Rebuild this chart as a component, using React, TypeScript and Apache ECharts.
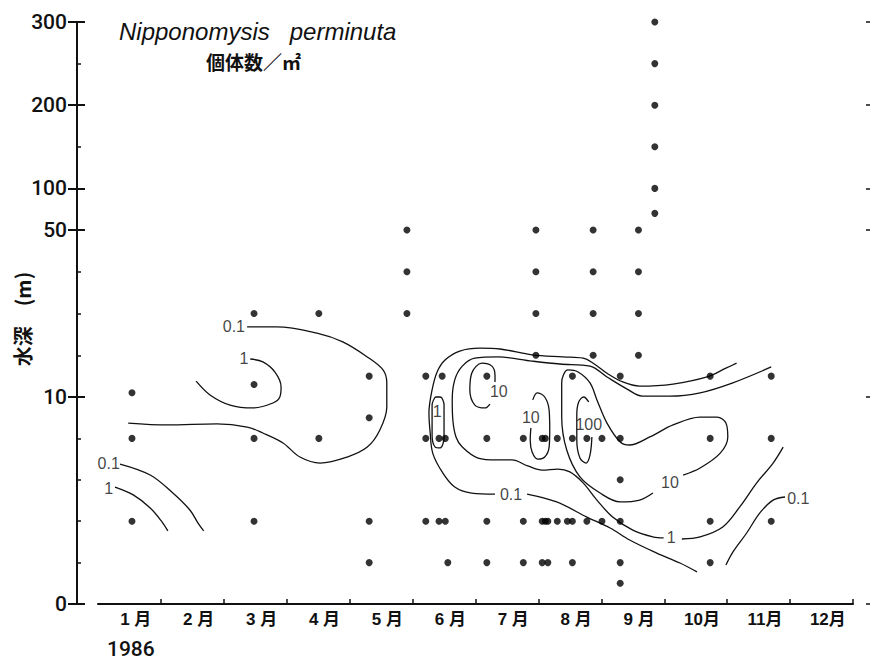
import React, { useEffect, useRef } from 'react';
import * as echarts from 'echarts';

// Month labels on the x axis (1 = start of January 1986)
const MONTH_LABELS = ['1 月', '2 月', '3 月', '4 月', '5 月', '6 月', '7 月', '8 月', '9 月', '10月', '11月', '12月'];

// Depth axis (m): labelled ticks and small unlabelled ticks
const DEPTH_TICKS = [0, 10, 50, 100, 200, 300];
const DEPTH_MINOR_TICKS = [2, 4, 6, 8, 20, 30, 40, 150, 250];

// Sampling stations: time (month) and the depths (m) sampled there
const SAMPLE_MONTHS = [1.54, 3.48, 4.51, 5.31, 5.91, 6.21, 6.42, 6.47, 6.52, 6.56, 7.18, 7.76, 7.96, 8.06, 8.11, 8.15, 8.3, 8.46, 8.54, 8.77, 8.87, 9.01, 9.3, 9.59, 9.85, 10.73, 11.7];
const SAMPLE_DEPTHS = [
  [11, 8, 4],
  [30, 13, 8, 4],
  [30, 8],
  [15, 9, 4, 2],
  [50, 40, 30],
  [15, 8, 4],
  [8, 4],
  [15],
  [8, 4],
  [2],
  [15, 8, 4, 2],
  [8, 4, 2],
  [50, 40, 30, 20],
  [8, 4, 2],
  [8, 4],
  [4, 2],
  [8, 4],
  [4],
  [15, 8, 4, 2],
  [8, 4],
  [50, 40, 30, 20],
  [8, 4],
  [15, 8, 6, 4, 2, 1],
  [50, 40, 30, 20],
  [300, 250, 200, 150, 100, 70],
  [15, 8, 4, 2],
  [15, 8, 4],
];

// Density isolines (individuals / m²), each as [month, depth m]
const JAN_ISO_01 = [[1.35, 6.76], [1.83, 6.23], [2.19, 5.36], [2.46, 4.54], [2.59, 3.91], [2.68, 3.53]];
const JAN_ISO_1 = [[1.27, 5.65], [1.56, 5.27], [1.83, 4.64], [2.02, 3.96], [2.11, 3.53]];
const SPRING_ISO_01 = [[3.37, 26.8], [3.84, 26.8], [4.48, 25.3], [4.89, 23.2], [5.28, 19.6], [5.53, 16.5], [5.59, 13.4], [5.59, 9.52], [5.48, 8.41], [5.28, 7.58], [4.96, 7.1], [4.53, 6.81], [4.21, 7.1], [3.94, 7.78], [3.62, 8.26], [3.37, 8.55], [2.89, 8.7], [2.1, 8.65], [1.48, 8.74]];
const SPRING_ISO_1 = [[3.42, 19.1], [3.62, 18.4], [3.81, 16.0], [3.91, 12.4], [3.89, 10.0], [3.78, 9.71], [3.46, 9.47], [3.1, 9.61], [2.78, 10.5], [2.56, 13.8]];
const SUMMER_ISO_01_A = [[11.15, 18.1], [10.98, 16.9], [10.68, 14.8], [10.14, 13.1], [9.61, 12.6], [9.34, 13.6], [9.09, 15.7], [8.87, 18.1], [8.71, 19.3], [8.39, 19.6], [7.9, 20.1], [7.39, 21.5], [7.07, 21.7], [6.75, 21.0], [6.52, 18.9], [6.39, 16.0], [6.31, 11.7], [6.26, 9.23], [6.28, 8.26], [6.32, 7.29], [6.47, 6.38], [6.67, 5.65], [6.94, 5.36], [7.31, 5.31]];
const SUMMER_ISO_01_B = [[7.82, 5.31], [8.29, 4.93], [8.77, 4.2], [9.14, 3.67], [9.45, 3.09], [9.88, 2.46], [10.25, 1.98], [10.52, 1.55]];
const SUMMER_ISO_1_A = [[11.7, 17.2], [11.09, 13.4], [10.57, 11.0], [10.09, 10.2], [9.65, 10.2], [9.41, 11.9], [9.09, 14.8], [8.82, 17.4], [8.34, 17.9], [7.9, 18.6], [7.36, 19.6], [6.99, 19.3], [6.79, 17.4], [6.67, 14.1], [6.63, 9.86], [6.64, 8.89], [6.69, 8.07], [6.79, 7.58], [7.04, 7.05], [7.34, 6.96], [7.58, 6.96], [7.83, 6.67], [8.06, 6.47], [8.31, 6.52], [8.5, 6.38], [8.71, 5.85], [8.93, 5.02], [9.18, 4.2], [9.5, 3.57], [9.82, 3.24], [9.99, 3.19]];
const SUMMER_ISO_1_B = [[10.28, 3.14], [10.57, 3.24], [10.93, 3.72], [11.2, 4.69], [11.47, 5.85], [11.73, 6.81], [11.89, 7.58]];
const AUG_ISO_10 = [[10.3, 6.23], [10.57, 6.57], [10.89, 7.29], [11.01, 8.07], [10.98, 8.74], [10.84, 9.03], [10.57, 9.03], [10.14, 8.65], [9.77, 8.07], [9.45, 7.68], [9.3, 7.83], [9.09, 8.74], [8.93, 9.86], [8.82, 13.4], [8.63, 16.0], [8.47, 16.5], [8.37, 13.4], [8.37, 9.03], [8.45, 7.44], [8.66, 6.14], [8.98, 5.36], [9.3, 4.93], [9.61, 5.02], [9.82, 5.36]];
const JUL_LOOP_ISO_10 = [[7.23, 9.66], [7.15, 9.47], [6.99, 9.61], [6.91, 11.7], [6.94, 15.7], [7.1, 18.1], [7.26, 17.4], [7.31, 15.2], [7.31, 13.6]];
const JUL_CORE_ISO_10 = [[7.88, 8.5], [7.87, 7.92], [7.9, 7.34], [7.99, 7.0], [8.1, 7.1], [8.17, 7.58], [8.18, 8.41], [8.17, 9.37], [8.1, 10.0], [7.98, 11.0], [7.91, 9.86]];
const AUG_ISO_100 = [[8.85, 8.07], [8.82, 7.2], [8.76, 6.81], [8.66, 7.05], [8.61, 7.92], [8.61, 9.13], [8.64, 9.76], [8.72, 10.0], [8.8, 9.76]];
const JUN_ISO_1 = [[6.36, 10.0], [6.44, 10.0], [6.5, 9.61], [6.5, 8.07], [6.44, 7.54], [6.36, 7.58], [6.31, 8.16], [6.31, 9.61], [6.36, 10.0]];
const NOV_ISO_01 = [[11.92, 5.17], [11.73, 5.02], [11.52, 4.4], [11.31, 3.43], [11.09, 2.51], [10.98, 1.88]];

const ISOLINES = [JAN_ISO_01, JAN_ISO_1, SPRING_ISO_01, SPRING_ISO_1, SUMMER_ISO_01_A, SUMMER_ISO_01_B, SUMMER_ISO_1_A, SUMMER_ISO_1_B, AUG_ISO_10, JUL_LOOP_ISO_10, JUL_CORE_ISO_10, AUG_ISO_100, JUN_ISO_1, NOV_ISO_01];

// Isoline level labels: [text, month, depth m]
const ISO_LABELS: [string, number, number][] = [
  ['0.1', 1.17, 6.8],
  ['1', 1.17, 5.56],
  ['0.1', 3.16, 26.8],
  ['1', 3.32, 19.3],
  ['1', 6.39, 9.32],
  ['10', 7.37, 11.2],
  ['10', 7.88, 9.03],
  ['100', 8.8, 8.65],
  ['0.1', 7.565, 5.31],
  ['10', 10.09, 5.85],
  ['1', 10.11, 3.19],
  ['0.1', 12.13, 5.12],
];

// Broken depth scale: 0–10 m, 10–50 m and 50–300 m each get their own stretch
function depthScale(d: number): number {
  if (d <= 10) return d * 20.7;
  if (d <= 50) return 207 + (d - 10) * 4.175;
  return 374 + (d - 50) * 0.832;
}
const DEPTH_TOP = depthScale(300);

const INK = '#111111';
const NUM_FONT = "Roboto, 'DejaVu Sans', sans-serif";
const CJK_FONT = "'Liberation Sans', 'Noto Sans CJK JP', sans-serif";

export default function App() {
  const ref = useRef<HTMLDivElement>(null);

  useEffect(() => {
    if (!ref.current) return;
    const chart = echarts.init(ref.current, undefined, { renderer: 'svg' });

    const dots: number[][] = [];
    SAMPLE_MONTHS.forEach((m, i) => {
      SAMPLE_DEPTHS[i].forEach((d) => dots.push([m, depthScale(d)]));
    });

    const lineSeries = ISOLINES.map((pts) => ({
      type: 'line',
      xAxisIndex: 0,
      yAxisIndex: 0,
      data: pts.map(([m, d]) => [m, depthScale(d)]),
      smooth: 0.35,
      showSymbol: false,
      symbol: 'none',
      silent: true,
      lineStyle: { color: INK, width: 1.3 },
      z: 2,
    }));

    const majorPos = DEPTH_TICKS.map(depthScale);
    const minorPos = DEPTH_MINOR_TICKS.map(depthScale);
    const baseY = {
      type: 'value',
      min: 0,
      max: DEPTH_TOP,
      splitLine: { show: false },
    };

    chart.setOption({
      animation: false,
      backgroundColor: '#ffffff',
      title: [
        {
          text: 'Nipponomysis   perminuta',
          left: 114,
          top: 14,
          textStyle: { fontFamily: "'Liberation Sans', sans-serif", fontStyle: 'italic', fontWeight: 'normal', fontSize: 24, color: INK },
        },
        {
          text: '個体数／㎡',
          left: 201,
          top: 47,
          textStyle: { fontFamily: "'Noto Sans CJK JP', sans-serif", fontWeight: 'bold', fontSize: 19, color: INK },
        },
      ],
      grid: { left: 98, right: 17, top: 22, bottom: 56, containLabel: false, outerBoundsMode: 'none' },
      xAxis: {
        type: 'value',
        min: 1,
        max: 13,
        position: 'bottom',
        axisLine: { show: true, onZero: false, lineStyle: { color: INK, width: 2 } },
        axisTick: {
          show: true,
          inside: true,
          length: 5,
          customValues: MONTH_LABELS.map((_, i) => i + 2),
          lineStyle: { color: INK, width: 1.5 },
        },
        axisLabel: {
          customValues: MONTH_LABELS.map((_, i) => i + 1.6),
          formatter: (v: number) => MONTH_LABELS[Math.floor(v) - 1] ?? '',
          margin: 7,
          fontFamily: CJK_FONT,
          fontWeight: 'bold',
          fontSize: 17,
          color: INK,
        },
        splitLine: { show: false },
      },
      yAxis: [
        {
          ...baseY,
          position: 'left',
          offset: 21,
          name: '水深　(m)',
          nameLocation: 'middle',
          nameGap: 45,
          nameMoveOverlap: false,
          nameRotate: 90,
          nameTextStyle: { fontFamily: "'Noto Sans CJK JP', sans-serif", fontWeight: 'bold', fontSize: 20, color: INK, padding: [0, 12, 0, 0] },
          axisLine: { show: true, onZero: false, lineStyle: { color: INK, width: 2 } },
          axisTick: { show: true, customValues: majorPos, length: 9, lineStyle: { color: INK, width: 2 } },
          axisLabel: {
            customValues: majorPos,
            formatter: (v: number) => {
              const d = DEPTH_TICKS.find((t) => Math.abs(depthScale(t) - v) < 0.01);
              return d === undefined ? '' : String(d);
            },
            margin: 10,
            fontFamily: NUM_FONT,
            fontWeight: 500,
            fontSize: 21,
            color: INK,
          },
        },
        {
          ...baseY,
          position: 'left',
          offset: 21,
          axisLine: { show: false },
          axisTick: { show: true, inside: true, customValues: majorPos, length: 8, lineStyle: { color: INK, width: 2 } },
          axisLabel: { show: false },
        },
        {
          ...baseY,
          position: 'left',
          offset: 21,
          axisLine: { show: false },
          axisTick: { show: true, inside: true, customValues: minorPos, length: 4, lineStyle: { color: INK, width: 1.5 } },
          axisLabel: { show: false },
        },
        {
          ...baseY,
          position: 'right',
          offset: 17,
          axisLine: { show: false },
          axisTick: { show: true, inside: true, customValues: majorPos, length: 4, lineStyle: { color: INK, width: 1.5 } },
          axisLabel: { show: false },
        },
      ],
      graphic: [
        {
          type: 'text',
          left: 107,
          top: 638,
          style: { text: '1986', fontFamily: NUM_FONT, fontWeight: 500, fontSize: 21, fill: INK },
        },
      ],
      series: [
        ...lineSeries,
        {
          type: 'scatter',
          xAxisIndex: 0,
          yAxisIndex: 0,
          data: dots,
          symbolSize: 7,
          itemStyle: { color: '#000000' },
          silent: true,
          z: 3,
        },
        {
          type: 'scatter',
          xAxisIndex: 0,
          yAxisIndex: 0,
          data: ISO_LABELS.map(([t, m, d]) => ({ name: t, value: [m, depthScale(d)] })),
          symbolSize: 1,
          itemStyle: { color: 'rgba(0,0,0,0)' },
          silent: true,
          z: 4,
          label: {
            show: true,
            position: 'inside',
            formatter: '{b}',
            fontFamily: "'Liberation Sans', sans-serif",
            fontSize: 16,
            color: INK,
            textBorderWidth: 0,
            textBorderColor: 'transparent',
          },
        },
      ],
    });

    return () => chart.dispose();
  }, []);

  return (
    <div
      ref={ref}
      style={{ position: 'fixed', left: 0, top: 0, width: 870, height: 660, background: '#fff' }}
    />
  );
}
